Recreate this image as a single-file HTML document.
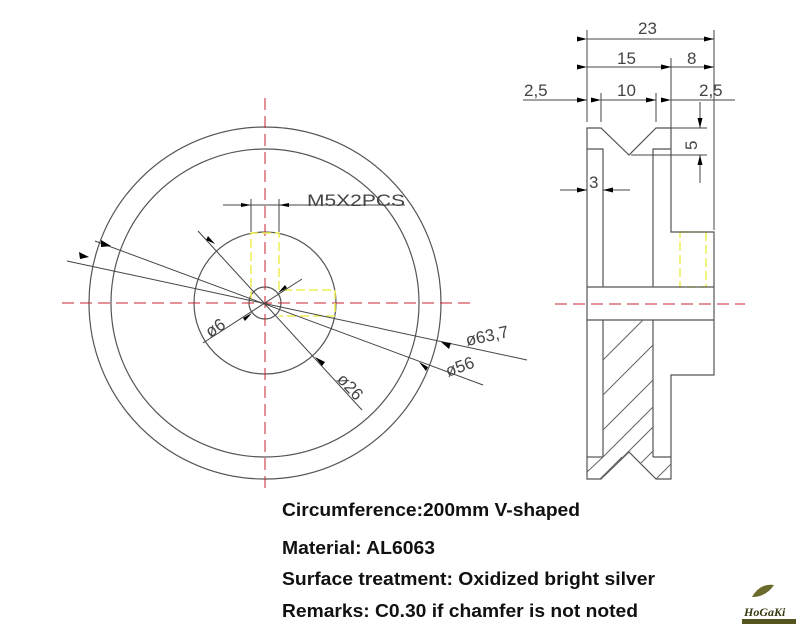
<!DOCTYPE html>
<html><head><meta charset="utf-8"><style>
body{margin:0;background:#fff;width:800px;height:640px;overflow:hidden}
svg{position:absolute;left:0;top:0}
.t{font-family:"Liberation Sans",Arial,sans-serif;font-weight:bold;font-size:18px;fill:#111}
.d{font-family:"Liberation Sans",Arial,sans-serif;font-size:17px;fill:#444}
</style></head><body>
<svg width="800" height="640" viewBox="0 0 800 640">
<defs><marker id="a" markerWidth="10" markerHeight="6" refX="10" refY="3" orient="auto" markerUnits="userSpaceOnUse"><path d="M0,0.5 L10,3 L0,5.5z" fill="#000"/></marker></defs>
<g fill="none" stroke="#555" stroke-width="1.2">
<circle cx="265" cy="303" r="176"/>
<circle cx="265" cy="303" r="154"/>
<circle cx="265" cy="303" r="71"/>
<circle cx="265" cy="303" r="16"/>
</g>
<g stroke="#c23" stroke-width="1" stroke-dasharray="12,6" fill="none">
<line x1="62" y1="303" x2="470" y2="303"/>
<line x1="265" y1="98" x2="265" y2="490"/>
<line x1="555" y1="304" x2="745" y2="304"/>
</g>
<g stroke="#ee5" stroke-width="1.5" stroke-dasharray="9,4" fill="none">
<path d="M251,300 V233 H279 V290 H335 V316 H279"/>
<rect x="680" y="232" width="26" height="55"/>
</g>
<g stroke="#444" stroke-width="1" fill="none">
<line x1="67" y1="261" x2="527" y2="360"/>
<line x1="95" y1="241" x2="483" y2="385"/>
<line x1="198" y1="231" x2="362" y2="410"/>
<line x1="203" y1="343" x2="302" y2="279"/>
<line x1="223" y1="205" x2="405" y2="205"/>
<line x1="251" y1="199" x2="251" y2="232"/><line x1="279" y1="199" x2="279" y2="232"/>
</g>
<g fill="#000">
<path d="M89,257 l-10,-5 l1,7z"/><path d="M111,246 l-10,-6 l0,7z"/>
<path d="M441,342 l10,1 l-2,6z"/><path d="M419,362 l9,5 l-2,4z"/>
<path d="M215,244 l-7,-8 l-2,4z"/><path d="M315,357 l7,9 l3,-4z"/>
<path d="M251,205 l-10,-2 v4z"/><path d="M279,205 l10,-2 v4z"/>
<path d="M252,313 l-9,5 l2,3z"/><path d="M278,293 l9,-5 l-2,-3z"/>
</g>
<text class="d" x="307" y="206" textLength="98" lengthAdjust="spacingAndGlyphs">M5X2PCS</text>
<text class="d" transform="translate(467,346) rotate(-12)">ø63,7</text>
<text class="d" transform="translate(448,377) rotate(-20)">ø56</text>
<text class="d" transform="translate(336,380) rotate(47)">ø26</text>
<text class="d" transform="translate(210,338) rotate(-33)">ø6</text>
<g stroke="#555" stroke-width="1.2" fill="none">
<path d="M587,128 H601 L629,155 L656,128 H671 V232 H714 V375 H671 V479 H656 L629,452 L601,479 H587 Z"/>
<path d="M587,149 H603 V287"/><path d="M653,287 V149 H671"/>
<line x1="587" y1="287" x2="714" y2="287"/><line x1="587" y1="320" x2="714" y2="320"/>
<line x1="603" y1="320" x2="603" y2="457"/><line x1="653" y1="320" x2="653" y2="457"/>
<line x1="587" y1="457" x2="603" y2="457"/><line x1="653" y1="457" x2="671" y2="457"/>
</g>
<g stroke="#666" stroke-width="1" fill="none">
<line x1="603" y1="360" x2="643" y2="320"/><line x1="603" y1="395" x2="653" y2="345"/>
<line x1="603" y1="430" x2="653" y2="380"/><line x1="603" y1="457" x2="653" y2="407"/>
<line x1="615" y1="465" x2="653" y2="427"/><line x1="587" y1="472" x2="603" y2="457"/>
<line x1="600" y1="479" x2="622" y2="457"/><line x1="641" y1="463" x2="653" y2="451"/>
<line x1="656" y1="479" x2="671" y2="464"/>
</g>
<g stroke="#444" stroke-width="1" fill="none">
<line x1="587" y1="30" x2="587" y2="122"/><line x1="714" y1="30" x2="714" y2="230"/>
<line x1="671" y1="58" x2="671" y2="128"/><line x1="601" y1="93" x2="601" y2="122"/><line x1="656" y1="93" x2="656" y2="122"/>
<line x1="587" y1="39" x2="714" y2="39" marker-start="url(#a)" marker-end="url(#a)"/>
<line x1="587" y1="67" x2="671" y2="67" marker-start="url(#a)" marker-end="url(#a)"/>
<line x1="671" y1="67" x2="714" y2="67" marker-start="url(#a)" marker-end="url(#a)"/>
<line x1="523" y1="100" x2="587" y2="100" marker-end="url(#a)"/>
<line x1="601" y1="100" x2="656" y2="100" marker-start="url(#a)" marker-end="url(#a)"/>
<line x1="671" y1="100" x2="735" y2="100" marker-start="url(#a)"/>
<line x1="671" y1="128" x2="707" y2="128"/><line x1="631" y1="155" x2="707" y2="155"/>
<line x1="700" y1="102" x2="700" y2="128" marker-end="url(#a)"/>
<line x1="700" y1="183" x2="700" y2="155" marker-end="url(#a)"/>
<line x1="560" y1="190" x2="587" y2="190" marker-end="url(#a)"/>
<line x1="630" y1="190" x2="603" y2="190" marker-end="url(#a)"/>
</g>
<g class="d">
<text x="638" y="34">23</text><text x="617" y="64">15</text><text x="687" y="64">8</text>
<text x="524" y="96">2,5</text><text x="617" y="96">10</text><text x="699" y="96">2,5</text>
<text x="589" y="188">3</text>
<text transform="translate(697,150) rotate(-90)">5</text>
</g>
<text class="t" x="282" y="516" textLength="298" lengthAdjust="spacingAndGlyphs">Circumference:200mm V-shaped</text>
<text class="t" x="282" y="554" textLength="153" lengthAdjust="spacingAndGlyphs">Material: AL6063</text>
<text class="t" x="282" y="585" textLength="373" lengthAdjust="spacingAndGlyphs">Surface treatment: Oxidized bright silver</text>
<text class="t" x="282" y="617" textLength="356" lengthAdjust="spacingAndGlyphs">Remarks: C0.30 if chamfer is not noted</text>
<path d="M752,597 q8,-14 22,-12 q-8,12 -22,12z" fill="#6a6a2a"/>
<text x="744" y="616" font-family="Liberation Serif,serif" font-style="italic" font-weight="bold" font-size="12" fill="#3a3a10">HoGaKi</text>
<rect x="742" y="619" width="54" height="5" fill="#555520"/>
</svg>
</body></html>
